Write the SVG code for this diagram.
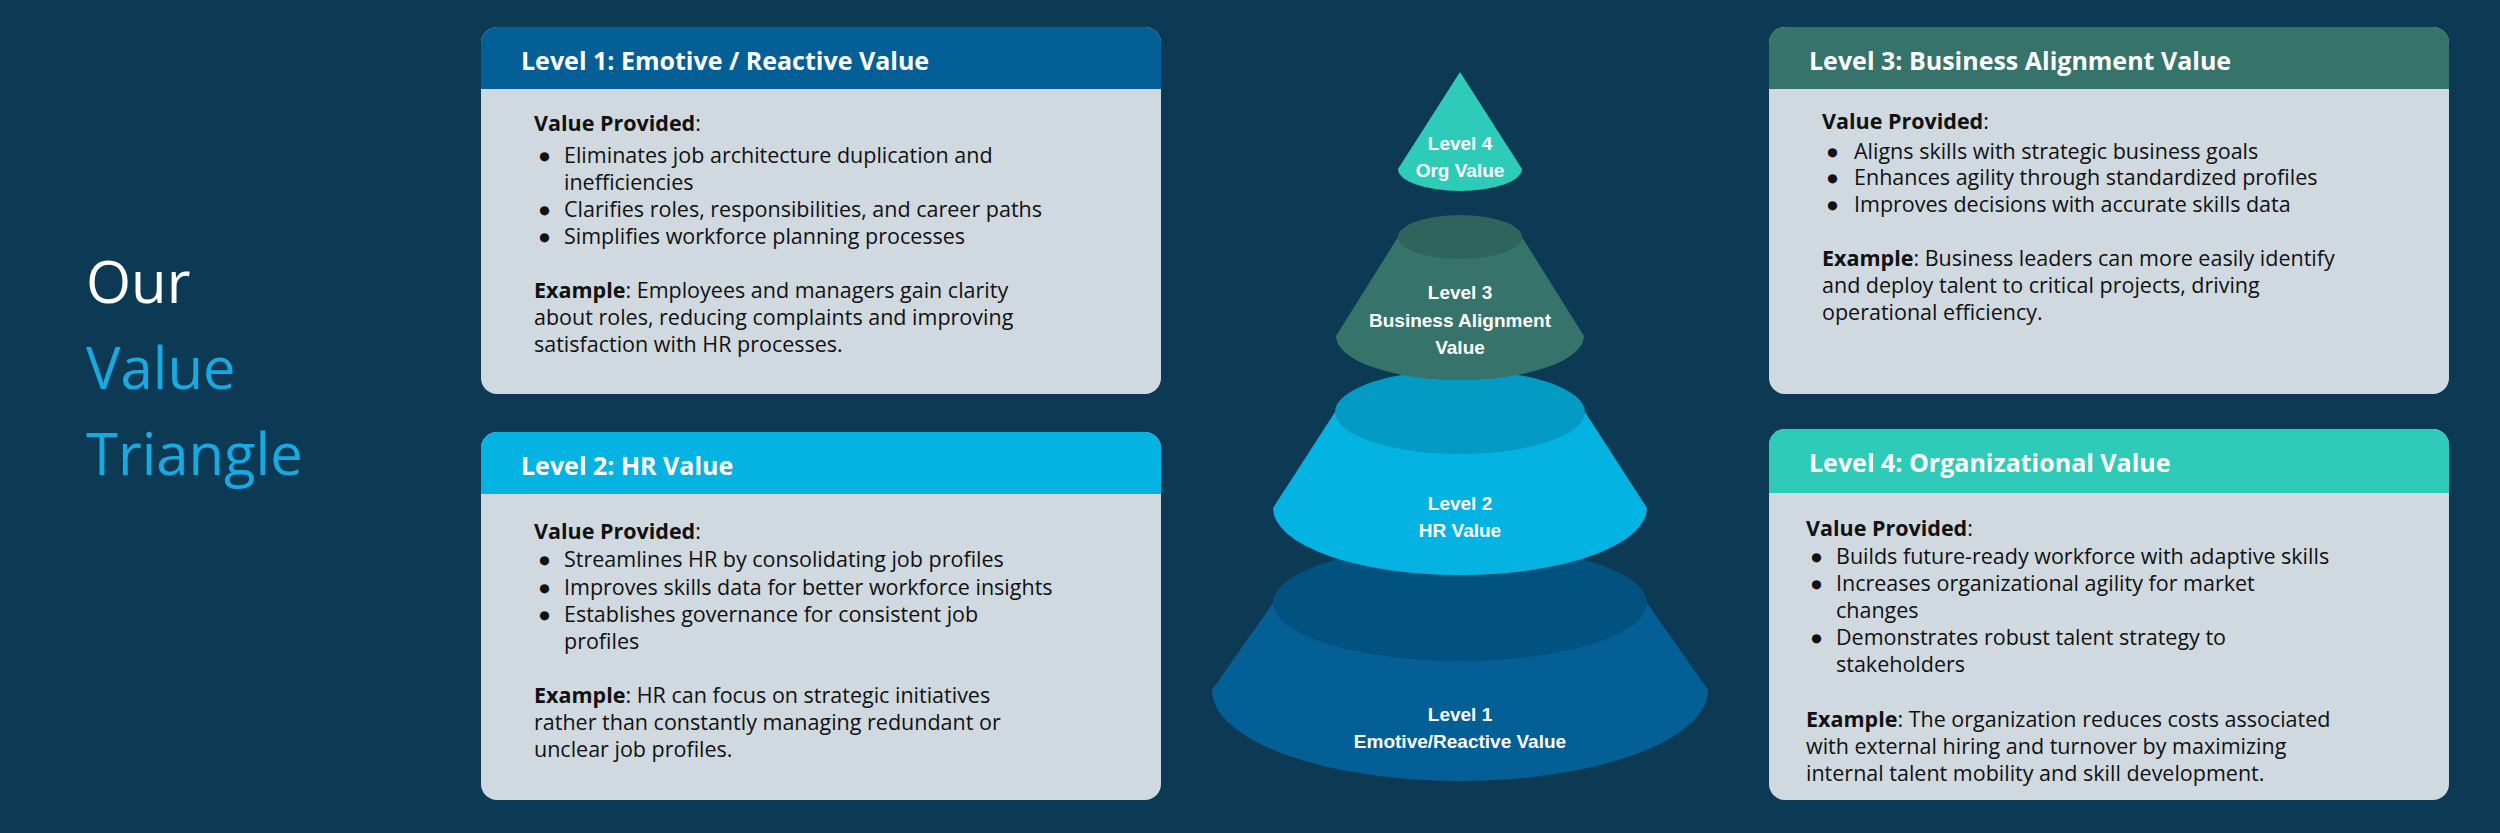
<svg xmlns="http://www.w3.org/2000/svg" width="2500" height="833" viewBox="0 0 2500 833">
<style>
.body{fill:#cfd9df}
.ttl{font-family:"Open Sans",sans-serif;font-weight:700;font-size:25px;fill:#fff}
.t{font-family:"Open Sans",sans-serif;font-size:21.5px;fill:#111}
.b{font-weight:700}
.pl{font-family:"Liberation Sans",Arial,sans-serif;font-weight:700;font-size:19px;fill:#fff;text-anchor:middle}
.big{font-family:"Open Sans",sans-serif;font-size:58px}
</style>
<rect width="2500" height="833" fill="#0c3a54"/>
<g id="title">
<text class="big" x="86" y="303" fill="#fff">Our</text>
<text class="big" x="86" y="389" fill="#17a9e1">Value</text>
<text class="big" x="86" y="475" fill="#17a9e1">Triangle</text>
</g>
<g id="card1">
<rect class="body" x="481" y="27" width="680" height="367" rx="16"/>
<path d="M481 89V43a16 16 0 0 1 16-16h648a16 16 0 0 1 16 16v46z" fill="#035f96"/>
<text class="ttl" x="521" y="70">Level 1: Emotive / Reactive Value</text>
<g class="t">
<text x="534" y="131"><tspan class="b">Value Provided</tspan>:</text>
<text x="538" y="163">●</text><text x="564" y="163">Eliminates job architecture duplication and</text>
<text x="564" y="190">inefficiencies</text>
<text x="538" y="217">●</text><text x="564" y="217">Clarifies roles, responsibilities, and career paths</text>
<text x="538" y="244">●</text><text x="564" y="244">Simplifies workforce planning processes</text>
<text x="534" y="298"><tspan class="b">Example</tspan>: Employees and managers gain clarity</text>
<text x="534" y="325">about roles, reducing complaints and improving</text>
<text x="534" y="352">satisfaction with HR processes.</text>
</g>
</g>
<g id="card2">
<rect class="body" x="481" y="432" width="680" height="368" rx="16"/>
<path d="M481 494V448a16 16 0 0 1 16-16h648a16 16 0 0 1 16 16v46z" fill="#04b3e2"/>
<text class="ttl" x="521" y="475">Level 2: HR Value</text>
<g class="t">
<text x="534" y="539"><tspan class="b">Value Provided</tspan>:</text>
<text x="538" y="567">●</text><text x="564" y="567">Streamlines HR by consolidating job profiles</text>
<text x="538" y="595">●</text><text x="564" y="595">Improves skills data for better workforce insights</text>
<text x="538" y="622">●</text><text x="564" y="622">Establishes governance for consistent job</text>
<text x="564" y="649">profiles</text>
<text x="534" y="703"><tspan class="b">Example</tspan>: HR can focus on strategic initiatives</text>
<text x="534" y="730">rather than constantly managing redundant or</text>
<text x="534" y="757">unclear job profiles.</text>
</g>
</g>
<g id="card3">
<rect class="body" x="1769" y="27" width="680" height="367" rx="16"/>
<path d="M1769 89V43a16 16 0 0 1 16-16h648a16 16 0 0 1 16 16v46z" fill="#36736b"/>
<text class="ttl" x="1809" y="70">Level 3: Business Alignment Value</text>
<g class="t">
<text x="1822" y="129"><tspan class="b">Value Provided</tspan>:</text>
<text x="1826" y="159">●</text><text x="1854" y="159">Aligns skills with strategic business goals</text>
<text x="1826" y="185">●</text><text x="1854" y="185">Enhances agility through standardized profiles</text>
<text x="1826" y="212">●</text><text x="1854" y="212">Improves decisions with accurate skills data</text>
<text x="1822" y="266"><tspan class="b">Example</tspan>: Business leaders can more easily identify</text>
<text x="1822" y="293">and deploy talent to critical projects, driving</text>
<text x="1822" y="320">operational efficiency.</text>
</g>
</g>
<g id="card4">
<rect class="body" x="1769" y="429" width="680" height="371" rx="16"/>
<path d="M1769 493V445a16 16 0 0 1 16-16h648a16 16 0 0 1 16 16v48z" fill="#2ecbb8"/>
<text class="ttl" x="1809" y="472">Level 4: Organizational Value</text>
<g class="t">
<text x="1806" y="536"><tspan class="b">Value Provided</tspan>:</text>
<text x="1810" y="564">●</text><text x="1836" y="564">Builds future-ready workforce with adaptive skills</text>
<text x="1810" y="591">●</text><text x="1836" y="591">Increases organizational agility for market</text>
<text x="1836" y="618">changes</text>
<text x="1810" y="645">●</text><text x="1836" y="645">Demonstrates robust talent strategy to</text>
<text x="1836" y="672">stakeholders</text>
<text x="1806" y="727"><tspan class="b">Example</tspan>: The organization reduces costs associated</text>
<text x="1806" y="754">with external hiring and turnover by maximizing</text>
<text x="1806" y="781">internal talent mobility and skill development.</text>
</g>
</g>
<g id="level1">
<path d="M1273 603L1212 690A248 91 0 0 0 1708 690L1647 603z" fill="#035f96"/>
<ellipse cx="1460" cy="603" rx="187" ry="58" fill="#02527f"/>
<text class="pl" x="1460" y="721">Level 1</text>
<text class="pl" x="1460" y="748">Emotive/Reactive Value</text>
</g>
<g id="level2">
<path d="M1335 412L1273 508A187 67 0 0 0 1647 508L1585 412z" fill="#04b3e2"/>
<ellipse cx="1460" cy="412" rx="125" ry="42" fill="#039ac3"/>
<text class="pl" x="1460" y="510">Level 2</text>
<text class="pl" x="1460" y="537">HR Value</text>
</g>
<g id="level3">
<path d="M1398 237L1336 336A124 44 0 0 0 1584 336L1522 237z" fill="#36736b"/>
<ellipse cx="1460" cy="237" rx="62" ry="22" fill="#2e645c"/>
<text class="pl" x="1460" y="299">Level 3</text>
<text class="pl" x="1460" y="327">Business Alignment</text>
<text class="pl" x="1460" y="354">Value</text>
</g>
<g id="level4">
<path d="M1460 72L1398 169A62 22 0 0 0 1522 169z" fill="#2ecbb8"/>
<text class="pl" x="1460" y="150">Level 4</text>
<text class="pl" x="1460" y="177">Org Value</text>
</g>
<g id="connectors"/>
</svg>
